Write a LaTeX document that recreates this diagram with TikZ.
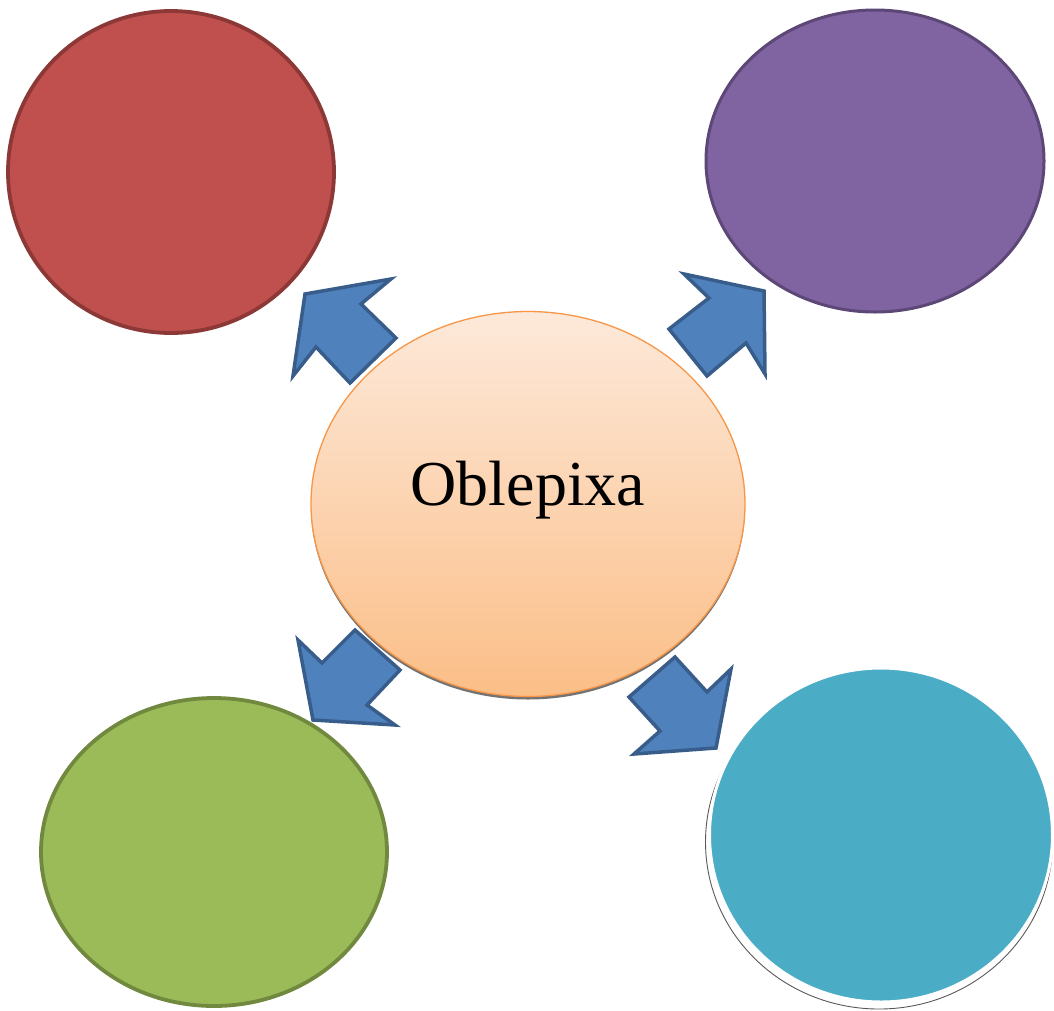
\documentclass[tikz,border=0pt]{standalone}
\usepackage{fontspec}
\setmainfont{Liberation Serif}
\usetikzlibrary{shapes.geometric}
\definecolor{redF}{HTML}{C0504D}\definecolor{redB}{HTML}{8C3836}
\definecolor{purF}{HTML}{8064A2}\definecolor{purB}{HTML}{5C4776}
\definecolor{grnF}{HTML}{9BBB59}\definecolor{grnB}{HTML}{71893F}
\definecolor{tealF}{HTML}{4BACC6}
\definecolor{arrF}{HTML}{4F81BD}\definecolor{arrB}{HTML}{385D8A}
\definecolor{orgB}{HTML}{F79646}
\definecolor{orgTop}{HTML}{FDE9DA}\definecolor{orgBot}{HTML}{FBBE87}
\tikzset{
  blob/.style={ellipse, inner sep=0pt, line width=3.8pt},
  blockarrow/.style={fill=arrF, draw=arrB, line width=3.5pt, line join=miter},
}
\begin{document}
\begin{tikzpicture}[x=1pt,y=-1pt]
\useasboundingbox (0,0) rectangle (1054,1010);
% outer circles
\node[blob, fill=redF, draw=redB, minimum width=326pt, minimum height=322pt] (red) at (171,172) {};
\node[blob, fill=purF, draw=purB, line width=3pt, minimum width=338pt, minimum height=302pt] (purple) at (875,161) {};
\node[blob, fill=grnF, draw=grnB, minimum width=346pt, minimum height=308pt] (green) at (214,852) {};
\node[ellipse, inner sep=0pt, fill=white, draw=black!65, line width=0.9pt, minimum width=347pt, minimum height=334pt] (tealshadow) at (879,842) {};
\node[ellipse, inner sep=0pt, fill=tealF, draw=white, line width=3pt, minimum width=343pt, minimum height=334pt] (teal) at (881,835) {};
% center
\node[ellipse, inner sep=0pt, fill=black!55, minimum width=434pt, minimum height=385pt] (censhadow) at (528,507) {};
\node[ellipse, inner sep=0pt, top color=orgTop, bottom color=orgBot, draw=orgB, line width=1.3pt, minimum width=434pt, minimum height=385pt] (center) at (528,504) {};
\node[inner sep=0pt] (label) at (528,490) {\fontsize{64}{70}\selectfont Oblepixa};
% block arrows
\draw[blockarrow] (305,294) -- (391,279) -- (361,304) -- (396,338) -- (350,383) -- (316,347) -- (293,376) -- cycle;
\draw[blockarrow] (764,291) -- (765,374) -- (746,343) -- (707,376) -- (669,329) -- (709,298) -- (684,274) -- cycle;
\draw[blockarrow] (313,720) -- (298,640) -- (322,663) -- (355,630) -- (400,670) -- (367,705) -- (395,725) -- cycle;
\draw[blockarrow] (716,748) -- (634,754) -- (660,731) -- (629,697) -- (675,657) -- (707,692) -- (731,669) -- cycle;
\end{tikzpicture}
\end{document}
